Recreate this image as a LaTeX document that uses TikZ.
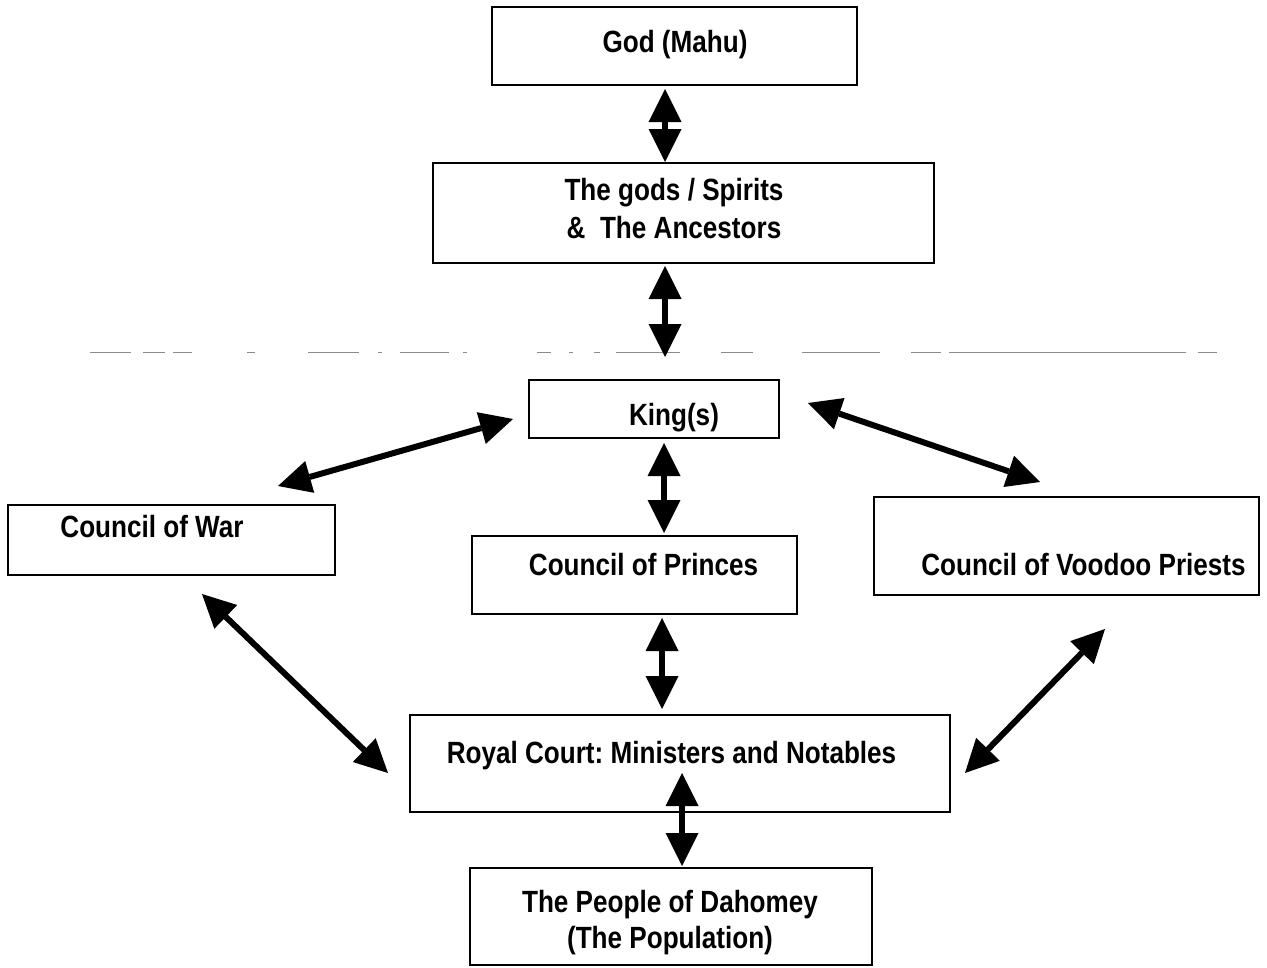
\documentclass[tikz,border=0pt]{standalone}
\usepackage{fontspec}
\setmainfont{Liberation Sans}[FakeStretch=0.85]
\usetikzlibrary{arrows.meta}
\frenchspacing
\tikzset{
  box/.style={draw, line width=2pt, inner sep=0pt},
  lbl/.style={anchor=base, inner sep=0pt, align=center,
    font=\bfseries\fontsize{30.7}{37}\selectfont},
  dbl/.style={line width=6pt,
    {Triangle[length=33pt 0 0,width=33pt 0 0,line width=0pt]}-{Triangle[length=33pt 0 0,width=33pt 0 0,line width=0pt]}},
  sep/.style={line width=1pt, draw=black!45}
}
\begin{document}
\begin{tikzpicture}[x=1pt,y=-1pt]
\useasboundingbox (0,0) rectangle (1267,967);
% boxes
\node[box, minimum width=365pt, minimum height=78pt] (god) at (674.5,46) {};
\node[box, minimum width=501pt, minimum height=100pt] (gods) at (683.5,213) {};
\node[box, minimum width=250pt, minimum height=58pt] (king) at (654,409) {};
\node[box, minimum width=327pt, minimum height=70pt] (war) at (171.5,540) {};
\node[box, minimum width=325pt, minimum height=78pt] (princes) at (634.5,575) {};
\node[box, minimum width=385pt, minimum height=98pt] (voodoo) at (1066.5,546) {};
\node[box, minimum width=540pt, minimum height=97pt] (royal) at (680,763.5) {};
\node[box, minimum width=402pt, minimum height=97pt] (people) at (671,916.5) {};
% texts
\node[lbl] (godt) at (675,52) {God (Mahu)};
\node[lbl, font=\bfseries\fontsize{30.7}{38}\selectfont] (godst) at (674,238) {The gods / Spirits\\\&~ The Ancestors};
\node[lbl] (kingt) at (674,425) {King(s)};
\node[lbl] (wart) at (152,537) {Council of War};
\node[lbl] (princest) at (643.5,575) {Council of Princes};
\node[lbl] (voodoot) at (1083.5,575) {Council of Voodoo Priests};
\node[lbl] (royalt) at (671.5,763) {Royal Court: Ministers and Notables};
\node[lbl, font=\bfseries\fontsize{30.7}{36}\selectfont] (peoplet) at (670,948) {The People of Dahomey\\(The Population)};
% separator line
\foreach \a/\b in {90/131,143/165,173/192,247/255,308/359,378/382,400/449,463/467,537/551,569/573,594/600,616/680,721/753,802/880,911/941,949/1186,1198/1217}
  \draw[sep] (\a,352) -- (\b,352);
% connectors
\draw[dbl] ([shift={(-9.5,3)}]god.south) -- ([shift={(-18.5,0)}]gods.north);
\draw[dbl] ([shift={(-18.5,2)}]gods.south) -- ([shift={(11,-22)}]king.north);
\draw[dbl] ([shift={(-15,10)}]king.west) -- ([shift={(106.5,-18)}]war.north);
\draw[dbl] ([shift={(28,-6)}]king.east) -- ([shift={(-26.5,-14)}]voodoo.north);
\draw[dbl] ([shift={(10,4)}]king.south) -- ([shift={(29.5,-2)}]princes.north);
\draw[dbl] ([shift={(27.5,3)}]princes.south) -- ([shift={(-18,-5)}]royal.north);
\draw[dbl] ([shift={(30.5,18)}]war.south) -- ([shift={(-21,9.5)}]royal.west);
\draw[dbl] ([shift={(38.5,33)}]voodoo.south) -- ([shift={(14,9.5)}]royal.east);
\draw[dbl] ([shift={(2,9.5)}]royal.center) -- ([shift={(11,-1)}]people.north);
\end{tikzpicture}
\end{document}
